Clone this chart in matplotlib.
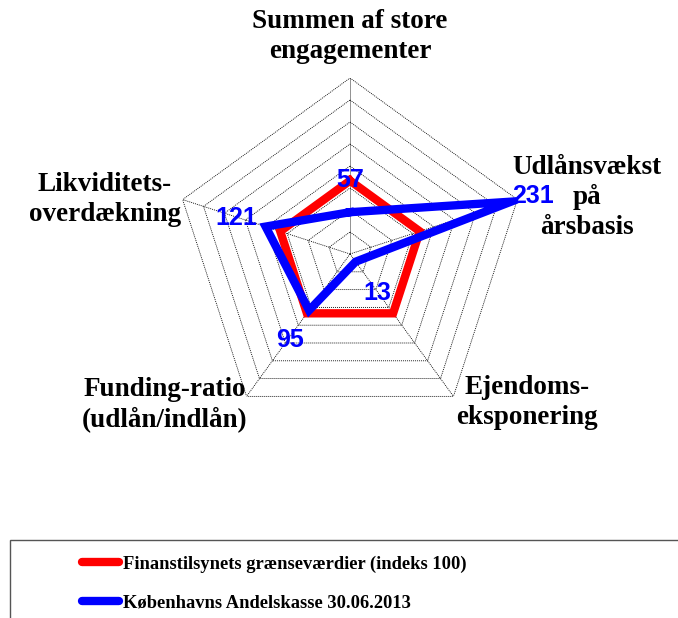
import numpy as np
import matplotlib
matplotlib.use("Agg")
import matplotlib.pyplot as plt
from matplotlib.patches import Rectangle
from matplotlib.lines import Line2D

categories = ["Summen af store\nengagementer", "Udlånsvækst\npå\nårsbasis",
              "Ejendoms-\neksponering", "Funding-ratio\n(udlån/indlån)",
              "Likviditets-\noverdækning"]
limit_values = [100, 100, 100, 100, 100]
bank_values = [57, 231, 13, 95, 121]
series_names = ["Finanstilsynets grænseværdier (indeks 100)",
                "Københavns Andelskasse 30.06.2013"]
r_max = 240
r_step = 30

W, H = 678, 618
fig = plt.figure(figsize=(W / 100, H / 100), dpi=100)

cx, cy, R = 350, 254, 176
ax = fig.add_axes([(cx - R) / W, (H - cy - R) / H, 2 * R / W, 2 * R / H], projection="polar")
ax.set_theta_offset(np.pi / 2)
ax.set_theta_direction(-1)
ax.set_ylim(0, r_max)
ax.grid(False)
ax.spines["polar"].set_visible(False)
ax.set_xticks([])
ax.set_yticks([])
ax.patch.set_alpha(0)

n = len(categories)
angles = np.linspace(0, 2 * np.pi, n, endpoint=False)
ang_c = np.append(angles, angles[0])

for r in range(r_step, r_max + 1, r_step):
    ax.plot(ang_c, [r] * (n + 1), color="black", lw=0.6, ls=(0, (1.2, 1.2)), zorder=1)
for a in angles:
    ax.plot([a, a], [0, r_max], color="black", lw=0.6, ls=(0, (1.2, 1.2)), zorder=1)

ax.plot(ang_c, limit_values + limit_values[:1], color="#ff0000", lw=6, zorder=3,
        solid_joinstyle="miter")
ax.plot(ang_c, bank_values + bank_values[:1], color="#0000ff", lw=6, zorder=4,
        solid_joinstyle="miter")

# data labels
lab_pos = [(350, 180), (533, 196), (377, 293), (290, 340), (236, 218)]
for (px, py), v in zip(lab_pos, bank_values):
    fig.text(px / W, 1 - py / H, str(v), color="#0000ff", fontsize=18,
             fontweight="bold", family="Liberation Sans", ha="center", va="center")

# category labels (one text per line)
cat_pos = [(350, 37), (587, 197), (527, 402), (165, 404), (105, 200)]
pitch = 30
for (px, py), c in zip(cat_pos, categories):
    lines = c.split("\n")
    k = len(lines)
    for i, line in enumerate(lines):
        yy = py + (i - (k - 1) / 2) * pitch
        fig.text(px / W, 1 - yy / H, line, fontsize=19.5, fontweight="bold",
                 family="Liberation Serif", ha="center", va="center")

# legend frame
fig.patches.append(Rectangle((10 / W, 1 - 640 / H), 700 / W, 100 / H,
                             transform=fig.transFigure, fill=False,
                             edgecolor="#555555", lw=1.0))
handles = [Line2D([], [], color="#ff0000", lw=6, solid_capstyle="round"),
           Line2D([], [], color="#0000ff", lw=6, solid_capstyle="round")]
leg = fig.legend(handles, series_names, loc="upper left",
                 bbox_to_anchor=(73 / W, 1 - 546 / H), frameon=False,
                 prop={"family": "Liberation Serif", "weight": "bold", "size": 13.3},
                 handlelength=2.0, handletextpad=0.2, labelspacing=1.2,
                 borderpad=0)

fig.savefig("out.png", dpi=100)
